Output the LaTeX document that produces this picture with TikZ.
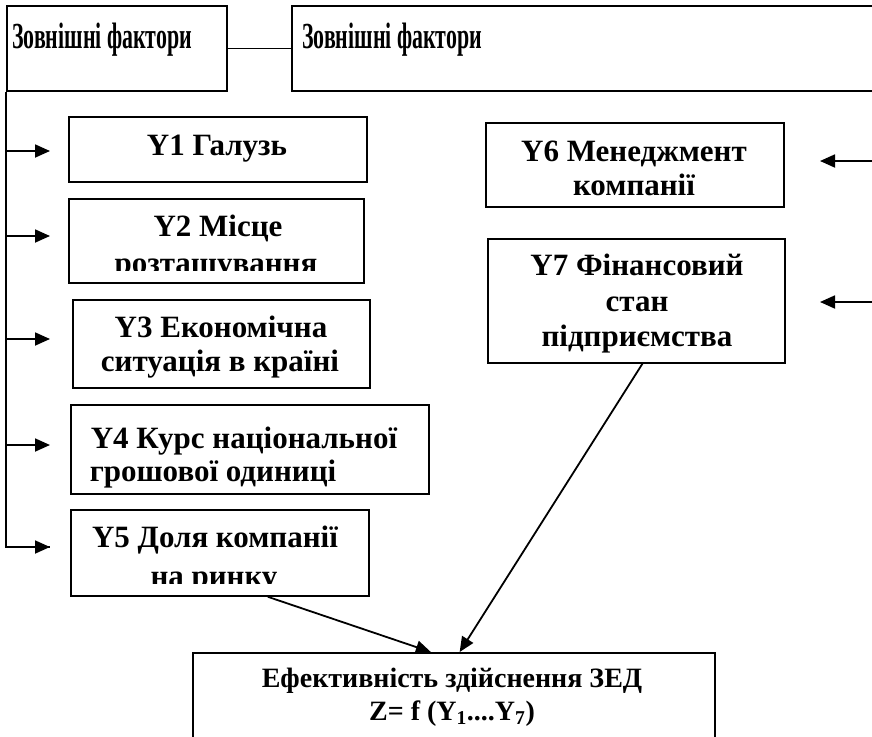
\documentclass[tikz,border=0pt]{standalone}
\usepackage{fontspec}
\setmainfont{Liberation Serif}
\usetikzlibrary{arrows.meta,calc}
\begin{document}
\begin{tikzpicture}[x=1pt,y=-1pt,
  box/.style={draw,line width=1.8pt,inner sep=0pt,anchor=north west},
  yt/.style={font=\fontsize{31}{36}\selectfont\bfseries,inner sep=0pt,anchor=base},
  tt/.style={font=\fontsize{35}{40}\selectfont\bfseries,inner sep=0pt,anchor=base west},
  bt/.style={font=\fontsize{28}{32}\selectfont\bfseries,inner sep=0pt,anchor=base},
  conn/.style={line width=1.8pt},
  arr/.style={line width=1.8pt,-{Triangle[length=15pt,width=13pt]}}]
\useasboundingbox (0,0) rectangle (872,736);
% title boxes
\node[box,minimum width=220pt,minimum height=85pt] (z1) at (6,5) {};
\node[box,minimum width=600pt,minimum height=85pt] (z2) at (291,5) {};
\node[tt] (z1t) at (12,48) {\scalebox{0.625}[1.05]{Зовнішні фактори}};
\node[tt] (z2t) at (302,48) {\scalebox{0.625}[1.05]{Зовнішні фактори}};
\draw[conn] (z1.east) -- (z2.west);
% left factor boxes
\node[box,minimum width=298pt,minimum height=65pt] (y1) at (68,116) {};
\node[box,minimum width=295pt,minimum height=84pt] (y2) at (68,198) {};
\node[box,minimum width=297pt,minimum height=88pt] (y3) at (72,299) {};
\node[box,minimum width=358pt,minimum height=89pt] (y4) at (70,404) {};
\node[box,minimum width=298pt,minimum height=86pt] (y5) at (70,509) {};
% right factor boxes
\node[box,minimum width=298pt,minimum height=84pt] (y6) at (485,122) {};
\node[box,minimum width=297pt,minimum height=124pt] (y7) at (487,238) {};
% result box
\node[box,minimum width=522pt,minimum height=110pt] (zb) at (192,652) {};
% texts
\node[yt] (y1a) at (217,155) {Y1 Галузь};
\node[yt] (y2a) at (218,236) {Y2 Місце};
\begin{scope}
\clip (y2.north west) rectangle (363,270);
\node[yt] (y2b) at (216,273) {розташування};
\end{scope}
\node[yt] (y3a) at (221,337) {Y3 Економічна};
\node[yt] (y3b) at (220,371) {ситуація в країні};
\node[yt] (y4a) at (244,448) {Y4 Курс національної};
\node[yt] (y4b) at (213,481) {грошової одиниці};
\node[yt] (y5a) at (215,547) {Y5 Доля компанії};
\begin{scope}
\clip (y5.north west) rectangle (368,583);
\node[yt] (y5b) at (214,586) {на ринку};
\end{scope}
\node[yt] (y6a) at (634,161) {Y6 Менеджмент};
\node[yt] (y6b) at (634,195) {компанії};
\node[yt] (y7a) at (637,275) {Y7 Фінансовий};
\node[yt] (y7b) at (637,311) {стан};
\node[yt] (y7c) at (637,346) {підприємства};
\node[bt] (zba) at (452,687) {Ефективність здійснення ЗЕД};
\node[bt] (zbb) at (452,720) {Z= f (Y\textsubscript{1}....Y\textsubscript{7})};
% left trunk and arrows
\coordinate (a1) at (50,151);
\coordinate (a2) at (50,236);
\coordinate (a3) at (50,339);
\coordinate (a4) at (50,445);
\coordinate (a5) at (50,547);
\draw[conn] (z1.south west) -- (a5 -| z1.west) -- (a5);
\draw[arr] (a5 -| z1.west) -- (a5);
\draw[arr] (a1 -| z1.west) -- (a1);
\draw[arr] (a2 -| z1.west) -- (a2);
\draw[arr] (a3 -| z1.west) -- (a3);
\draw[arr] (a4 -| z1.west) -- (a4);
% right arrows
\coordinate (r6s) at (873,161);
\coordinate (r6t) at (820,161);
\coordinate (r7s) at (873,302);
\coordinate (r7t) at (820,302);
\draw[arr] (r6s) -- (r6t);
\draw[arr] (r7s) -- (r7t);
% arrows to result
\draw[arr] ($(y5.south west)!0.66!(y5.south east)$) -- ($(zb.north west)!0.456!(zb.north east)$);
\draw[arr] ($(y7.south west)!0.52!(y7.south east)$) -- ($(zb.north west)!0.511!(zb.north east)$);
\end{tikzpicture}
\end{document}
